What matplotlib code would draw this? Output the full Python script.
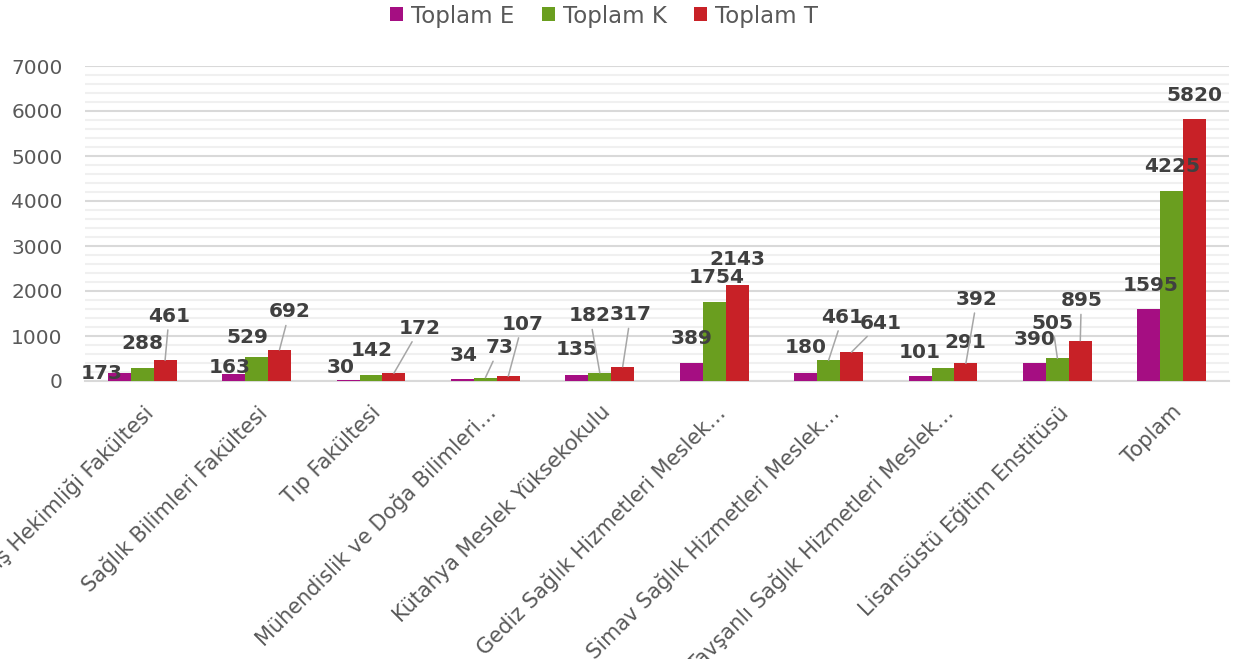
import matplotlib
matplotlib.use("Agg")
import matplotlib.pyplot as plt
from matplotlib.ticker import MultipleLocator
import numpy as np

categories = [
    "Diş Hekimliği Fakültesi",
    "Sağlık Bilimleri Fakültesi",
    "Tıp Fakültesi",
    "Mühendislik ve Doğa Bilimleri…",
    "Kütahya Meslek Yüksekokulu",
    "Gediz Sağlık Hizmetleri Meslek…",
    "Simav Sağlık Hizmetleri Meslek…",
    "Tavşanlı Sağlık Hizmetleri Meslek…",
    "Lisansüstü Eğitim Enstitüsü",
    "Toplam",
]
series_names = ["Toplam E", "Toplam K", "Toplam T"]
toplam_e = [173, 163, 30, 34, 135, 389, 180, 101, 390, 1595]
toplam_k = [288, 529, 142, 73, 182, 1754, 461, 291, 505, 4225]
toplam_t = [461, 692, 172, 107, 317, 2143, 641, 392, 895, 5820]
y_ticks = [0, 1000, 2000, 3000, 4000, 5000, 6000, 7000]

colors = ["#A50E82", "#6A9E1F", "#C82127"]

# label placement offsets (pixels from bar top centre) and leader-line flags
offs_e = [(-18, 0), (-4, 6), (-7, 12), (1, 24), (0, 25), (0, 25), (0, 25), (0, 24), (0, 24), (2, 24)]
offs_k = [(0, 25), (-9, 20), (1, 24), (14, 30), (-10, 57), (2, 25), (14, 43), (22, 25), (-5, 35), (0, 24)]
offs_t = [(4, 44), (10, 38), (26, 45), (14, 52), (8, 52), (0, 25), (29, 29), (11, 64), (1, 40), (0, 24)]
lead_e = [False] * 10
lead_k = [False, False, False, True, True, False, True, False, True, False]
lead_t = [True, True, True, True, True, False, True, True, True, False]

W, H = 1240, 659
fig = plt.figure(figsize=(W / 100, H / 100), dpi=100)
ax = fig.add_axes([85 / W, 1 - 381 / H, (1229 - 85) / W, (381 - 66) / H])

x = np.arange(len(categories))
bw = 0.2
all_series = [toplam_e, toplam_k, toplam_t]
all_offs = [offs_e, offs_k, offs_t]
all_lead = [lead_e, lead_k, lead_t]

handles = []
for j, (vals, col) in enumerate(zip(all_series, colors)):
    bars = ax.bar(x + (j - 1) * bw, vals, width=bw, color=col, zorder=3,
                  label=series_names[j], edgecolor="none")
    handles.append(bars)
    for i, (b, v) in enumerate(zip(bars, vals)):
        dx, dy = all_offs[j][i]
        xc = b.get_x() + b.get_width() / 2
        kw = {}
        if all_lead[j][i]:
            kw["arrowprops"] = dict(arrowstyle="-", color="#a6a6a6", lw=1.1,
                                    shrinkA=1, shrinkB=0)
        ax.annotate(str(v), xy=(xc, v), xytext=(dx, dy), textcoords="offset pixels",
                    ha="center", va="center", fontsize=14.5, fontweight="bold",
                    color="#404040", zorder=5, annotation_clip=False, **kw)

ax.set_xlim(-0.5, 9.5)
ax.set_ylim(0, 7000)
ax.set_yticks(y_ticks)
ax.yaxis.set_minor_locator(MultipleLocator(200))
ax.grid(which="major", axis="y", color="#d9d9d9", lw=1.5, zorder=0)
ax.grid(which="minor", axis="y", color="#f0f0f0", lw=1.5, zorder=0)
ax.set_axisbelow(True)
for s in ["top", "right", "left"]:
    ax.spines[s].set_visible(False)
ax.spines["bottom"].set_color("#d9d9d9")
ax.spines["bottom"].set_linewidth(1.5)
ax.tick_params(axis="both", which="both", length=0)
ax.tick_params(axis="y", labelsize=14.5, labelcolor="#595959", pad=16)
ax.set_xticks(x)
ax.set_xticklabels(categories, rotation=45, ha="right", va="top",
                   rotation_mode="anchor", fontsize=15, color="#595959")
ax.tick_params(axis="x", pad=15)

fig.legend(handles=handles, labels=series_names, loc="center",
           bbox_to_anchor=(604 / W, 1 - 16 / H), ncol=3, frameon=False,
           fontsize=16.5, handlelength=0.55, handleheight=0.55,
           handletextpad=0.35, columnspacing=1.2, labelcolor="#595959")

fig.savefig("out.png", dpi=100)
